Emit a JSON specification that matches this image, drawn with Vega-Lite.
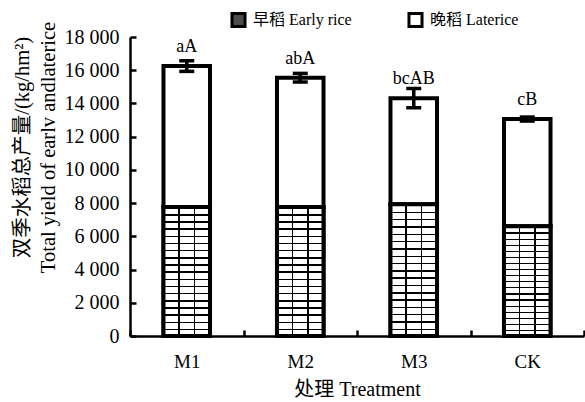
{
  "$schema": "https://vega.github.io/schema/vega-lite/v6.json",
  "width": 454,
  "height": 299,
  "autosize": {"type": "none"},
  "padding": {"left": 130, "top": 37, "right": 1, "bottom": 66},
  "config": {
    "view": {"stroke": null},
    "font": "Liberation Serif, Noto Sans CJK SC",
    "axis": {
      "domainColor": "black",
      "domainWidth": 2.5,
      "domainOpacity": 1,
      "ticks": true,
      "tickColor": "black",
      "tickWidth": 2.5,
      "tickOpacity": 1,
      "tickDash": [],
      "labelColor": "black",
      "labelOpacity": 1,
      "titleColor": "black",
      "labelFont": "Liberation Serif, Noto Sans CJK SC",
      "titleFont": "Liberation Serif, Noto Sans CJK SC",
      "titleFontWeight": "normal",
      "labelOverlap": false,
      "labelSeparation": 0,
      "labelFlush": false,
      "grid": false
    }
  },
  "datasets": {
    "seg": [
      {"treatment": "M1", "type": "早稻 Early rice", "from": 0, "to": 7770},
      {"treatment": "M1", "type": "晚稻 Laterice", "from": 7770, "to": 16250},
      {"treatment": "M2", "type": "早稻 Early rice", "from": 0, "to": 7770},
      {"treatment": "M2", "type": "晚稻 Laterice", "from": 7770, "to": 15550},
      {"treatment": "M3", "type": "早稻 Early rice", "from": 0, "to": 7930},
      {"treatment": "M3", "type": "晚稻 Laterice", "from": 7930, "to": 14320},
      {"treatment": "CK", "type": "早稻 Early rice", "from": 0, "to": 6600},
      {"treatment": "CK", "type": "晚稻 Laterice", "from": 6600, "to": 13060}
    ],
    "tot": [
      {"treatment": "M1", "total": 16250, "lo": 15930, "hi": 16570, "letter": "aA"},
      {"treatment": "M2", "total": 15550, "lo": 15290, "hi": 15810, "letter": "abA"},
      {"treatment": "M3", "total": 14320, "lo": 13740, "hi": 14900, "letter": "bcAB"},
      {"treatment": "CK", "total": 13060, "lo": 12940, "hi": 13180, "letter": "cB"}
    ]
  },
  "layer": [
    {
      "data": {"name": "seg"},
      "mark": {"type": "bar", "stroke": "black", "strokeWidth": 4, "width": {"band": 0.41}},
      "encoding": {
        "x": {
          "field": "treatment", "type": "nominal", "sort": ["M1", "M2", "M3", "CK"],
          "scale": {"paddingInner": 0, "paddingOuter": 0},
          "axis": {
            "labelAngle": 0, "ticks": true, "tickOpacity": 1, "tickBand": "extent", "tickSize": -6, "labelPadding": 22,
            "labelFontSize": 19, "labelFont": "Liberation Serif",
            "title": "处理 Treatment", "titleFontSize": 20, "titlePadding": 8
          }
        },
        "y": {
          "field": "to", "type": "quantitative",
          "scale": {"domain": [0, 18000], "nice": false},
          "axis": {
            "values": [0, 2000, 4000, 6000, 8000, 10000, 12000, 14000, 16000, 18000],
            "tickCount": 10, "ticks": true, "tickOpacity": 1, "tickSize": -6, "labelPadding": 17, "labelFontSize": 20,
            "labelFont": "Liberation Serif", "labelOverlap": false, "labelSeparation": 0, "labelBound": false,
            "labelExpr": "replace(format(datum.value, ','), ',', ' ')",
            "title": ["双季水稻总产量/(kg/hm²)", "Total yield of earlv andlaterice"],
            "titleFontSize": 20.5, "titleLineHeight": 26, "titleX": -98, "titleY": 110,
            "titleAngle": -90, "titleAlign": "center", "titleBaseline": "bottom"
          }
        },
        "y2": {"field": "from"},
        "fill": {
          "field": "type", "type": "nominal",
          "sort": ["早稻 Early rice", "晚稻 Laterice"],
          "scale": {"domain": ["早稻 Early rice", "晚稻 Laterice"], "range": ["#4d4d4d", "white"]},
          "legend": {
            "orient": "none", "legendX": 100, "legendY": -26, "direction": "horizontal",
            "title": null, "symbolType": "square", "symbolSize": 170,
            "symbolStrokeColor": "black", "symbolStrokeWidth": 3,
            "labelFontSize": 16, "labelFont": "Liberation Serif, Noto Sans CJK SC",
            "labelColor": "black", "columnPadding": 50, "labelOffset": 6
          }
        }
      }
    },
    {
      "data": {"name": "seg"},
      "transform": [{"filter": "datum.type === '早稻 Early rice'"}],
      "mark": {
        "type": "bar", "stroke": "black", "strokeWidth": 4, "width": {"band": 0.41},
        "fill": {
          "gradient": "linear", "x1": 0, "y1": 0, "x2": 0, "y2": 1,
          "stops": [
            {"offset": 0, "color": "black"}, {"offset": 0.011, "color": "black"}, {"offset": 0.011, "color": "white"}, {"offset": 0.0556, "color": "white"},
            {"offset": 0.0556, "color": "black"}, {"offset": 0.0666, "color": "black"}, {"offset": 0.0666, "color": "white"}, {"offset": 0.1111, "color": "white"},
            {"offset": 0.1111, "color": "black"}, {"offset": 0.1221, "color": "black"}, {"offset": 0.1221, "color": "white"}, {"offset": 0.1667, "color": "white"},
            {"offset": 0.1667, "color": "black"}, {"offset": 0.1777, "color": "black"}, {"offset": 0.1777, "color": "white"}, {"offset": 0.2222, "color": "white"},
            {"offset": 0.2222, "color": "black"}, {"offset": 0.2332, "color": "black"}, {"offset": 0.2332, "color": "white"}, {"offset": 0.2778, "color": "white"},
            {"offset": 0.2778, "color": "black"}, {"offset": 0.2888, "color": "black"}, {"offset": 0.2888, "color": "white"}, {"offset": 0.3333, "color": "white"},
            {"offset": 0.3333, "color": "black"}, {"offset": 0.3443, "color": "black"}, {"offset": 0.3443, "color": "white"}, {"offset": 0.3889, "color": "white"},
            {"offset": 0.3889, "color": "black"}, {"offset": 0.3999, "color": "black"}, {"offset": 0.3999, "color": "white"}, {"offset": 0.4444, "color": "white"},
            {"offset": 0.4444, "color": "black"}, {"offset": 0.4554, "color": "black"}, {"offset": 0.4554, "color": "white"}, {"offset": 0.5, "color": "white"},
            {"offset": 0.5, "color": "black"}, {"offset": 0.511, "color": "black"}, {"offset": 0.511, "color": "white"}, {"offset": 0.5556, "color": "white"},
            {"offset": 0.5556, "color": "black"}, {"offset": 0.5666, "color": "black"}, {"offset": 0.5666, "color": "white"}, {"offset": 0.6111, "color": "white"},
            {"offset": 0.6111, "color": "black"}, {"offset": 0.6221, "color": "black"}, {"offset": 0.6221, "color": "white"}, {"offset": 0.6667, "color": "white"},
            {"offset": 0.6667, "color": "black"}, {"offset": 0.6777, "color": "black"}, {"offset": 0.6777, "color": "white"}, {"offset": 0.7222, "color": "white"},
            {"offset": 0.7222, "color": "black"}, {"offset": 0.7332, "color": "black"}, {"offset": 0.7332, "color": "white"}, {"offset": 0.7778, "color": "white"},
            {"offset": 0.7778, "color": "black"}, {"offset": 0.7888, "color": "black"}, {"offset": 0.7888, "color": "white"}, {"offset": 0.8333, "color": "white"},
            {"offset": 0.8333, "color": "black"}, {"offset": 0.8443, "color": "black"}, {"offset": 0.8443, "color": "white"}, {"offset": 0.8889, "color": "white"},
            {"offset": 0.8889, "color": "black"}, {"offset": 0.8999, "color": "black"}, {"offset": 0.8999, "color": "white"}, {"offset": 0.9444, "color": "white"},
            {"offset": 0.9444, "color": "black"}, {"offset": 0.9554, "color": "black"}, {"offset": 0.9554, "color": "white"}, {"offset": 1, "color": "white"}
          ]
        }
      },
      "encoding": {
        "x": {"field": "treatment", "type": "nominal", "sort": ["M1", "M2", "M3", "CK"]},
        "y": {"field": "to", "type": "quantitative"},
        "y2": {"field": "from"}
      }
    },
    {
      "data": {"name": "seg"},
      "transform": [{"filter": "datum.type === '早稻 Early rice'"}],
      "mark": {
        "type": "bar", "strokeWidth": 0, "width": {"band": 0.41},
        "fill": {
          "gradient": "linear", "x1": 0, "y1": 0, "x2": 1, "y2": 0,
          "stops": [
            {"offset": 0, "color": "rgba(0,0,0,0)"}, {"offset": 0.32, "color": "rgba(0,0,0,0)"},
            {"offset": 0.32, "color": "black"}, {"offset": 0.35, "color": "black"},
            {"offset": 0.35, "color": "rgba(0,0,0,0)"}, {"offset": 0.65, "color": "rgba(0,0,0,0)"},
            {"offset": 0.65, "color": "black"}, {"offset": 0.68, "color": "black"},
            {"offset": 0.68, "color": "rgba(0,0,0,0)"}, {"offset": 1, "color": "rgba(0,0,0,0)"}
          ]
        }
      },
      "encoding": {
        "x": {"field": "treatment", "type": "nominal", "sort": ["M1", "M2", "M3", "CK"]},
        "y": {"field": "to", "type": "quantitative"},
        "y2": {"field": "from"}
      }
    },
    {
      "data": {"name": "tot"},
      "mark": {"type": "rule", "strokeWidth": 3.5, "color": "black"},
      "encoding": {
        "x": {"field": "treatment", "type": "nominal", "sort": ["M1", "M2", "M3", "CK"]},
        "y": {"field": "lo", "type": "quantitative"},
        "y2": {"field": "hi"}
      }
    },
    {
      "data": {"name": "tot"},
      "mark": {"type": "tick", "thickness": 3.5, "size": 15, "color": "black", "opacity": 1},
      "encoding": {
        "x": {"field": "treatment", "type": "nominal", "sort": ["M1", "M2", "M3", "CK"]},
        "y": {"field": "lo", "type": "quantitative"}
      }
    },
    {
      "data": {"name": "tot"},
      "mark": {"type": "tick", "thickness": 3.5, "size": 15, "color": "black", "opacity": 1},
      "encoding": {
        "x": {"field": "treatment", "type": "nominal", "sort": ["M1", "M2", "M3", "CK"]},
        "y": {"field": "hi", "type": "quantitative"}
      }
    },
    {
      "data": {"name": "tot"},
      "mark": {"type": "text", "dy": -14, "baseline": "alphabetic", "fontSize": 18, "color": "black"},
      "encoding": {
        "x": {"field": "treatment", "type": "nominal", "sort": ["M1", "M2", "M3", "CK"]},
        "y": {"field": "total", "type": "quantitative"},
        "text": {"field": "letter"}
      }
    }
  ]
}
